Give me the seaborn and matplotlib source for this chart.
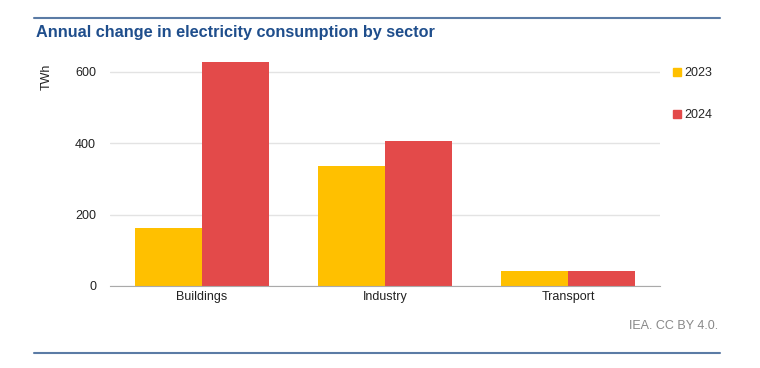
import seaborn as sns
import matplotlib.pyplot as plt
import pandas as pd
from matplotlib.lines import Line2D

sectors = ['Buildings', 'Industry', 'Transport']
years = ['2023', '2024']
change_2023 = [162, 336, 41]
change_2024 = [628, 406, 41]
colors = ['#FFC000', '#E34A4A']

data = pd.DataFrame({
    'Sector': sectors * 2,
    'Year': [years[0]] * 3 + [years[1]] * 3,
    'TWh': change_2023 + change_2024,
})

sns.set_style('white')
plt.rcParams['font.family'] = ['Liberation Sans', 'DejaVu Sans']

fig = plt.figure(figsize=(7.6, 3.68), dpi=100)
ax = fig.add_axes([110 / 760, 1 - 286 / 368, 550 / 760, 225 / 368])

sns.barplot(data=data, x='Sector', y='TWh', hue='Year', palette=colors,
            width=0.73, saturation=1, linewidth=0, ax=ax, legend=False)

ax.set_ylim(0, 630)
ax.set_yticks([0, 200, 400, 600])
ax.set_xlim(-0.5, 2.5)
ax.yaxis.grid(True, color='#E3E3E3', linewidth=1)
ax.set_axisbelow(True)
for s in ['top', 'right', 'left']:
    ax.spines[s].set_visible(False)
ax.spines['bottom'].set_color('#AAAAAA')
ax.tick_params(axis='both', labelsize=9, colors='#222222', length=0)
ax.tick_params(axis='y', pad=10)
ax.set_xlabel('')
ax.set_ylabel('TWh', fontsize=9, color='#222222')
ax.yaxis.set_label_coords(-0.105, 0.93)

handles = [Line2D([], [], marker='s', linestyle='', color=c, markersize=6) for c in colors]
fig.legend(handles, years, loc='upper left', bbox_to_anchor=(668 / 760, 1 - 62 / 368),
           frameon=False, fontsize=9, handlelength=0.6, handletextpad=0.3,
           labelspacing=2.4, borderaxespad=0)

fig.text(36 / 760, 1 - 33 / 368, 'Annual change in electricity consumption by sector',
         fontsize=11.7, fontweight='bold', color='#1F4E8C', va='center')
fig.text(718 / 760, 1 - 326 / 368, 'IEA. CC BY 4.0.', fontsize=9, color='#888888',
         ha='right', va='center')
fig.add_artist(Line2D([34 / 760, 720 / 760], [1 - 18 / 368] * 2, color='#5B7BA5', linewidth=1.5))
fig.add_artist(Line2D([34 / 760, 720 / 760], [1 - 353 / 368] * 2, color='#5B7BA5', linewidth=1.5))

fig.savefig('out.png', dpi=100)
